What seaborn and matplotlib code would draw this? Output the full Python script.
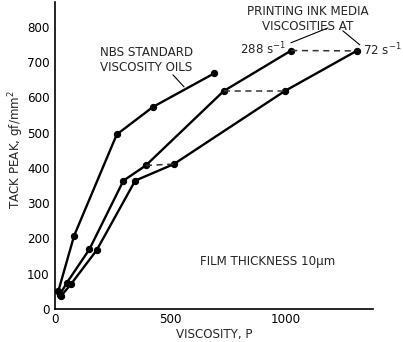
import matplotlib
matplotlib.use("Agg")
import matplotlib.pyplot as plt
from matplotlib.ticker import FixedLocator
import seaborn as sns
import pandas as pd

# data (viscosity in P, tack peak in gf/mm^2)
nbs_x = [15, 83, 268, 425, 690]
nbs_y = [52, 208, 495, 573, 668]
ink288_x = [20, 51, 149, 297, 394, 732, 1025]
ink288_y = [40, 74, 169, 364, 407, 618, 733]
ink72_x = [25, 70, 181, 348, 516, 997, 1309]
ink72_y = [36, 71, 167, 364, 411, 618, 732]
# dashed connectors between the two ink series (same sample)
link_pairs = [(4, 4), (5, 5), (6, 6)]

x_major = [0, 500, 1000]
x_minor = [100, 200, 300, 400, 600, 700, 800, 900, 1100, 1200]
y_ticks = [0, 100, 200, 300, 400, 500, 600, 700, 800]

sns.set_style("white")
plt.rcParams["font.family"] = ["DejaVu Sans"]
FS = 8.6

fig = plt.figure(figsize=(4.03, 3.42), dpi=100)
ax = fig.add_axes([0.1365, 0.0965, 0.789, 0.897])

for xs, ys in [(nbs_x, nbs_y), (ink288_x, ink288_y), (ink72_x, ink72_y)]:
    df = pd.DataFrame({"x": xs, "y": ys})
    sns.lineplot(data=df, x="x", y="y", sort=False, estimator=None, color="black",
                 lw=1.7, marker="o", markersize=4.5, markeredgecolor="black", ax=ax)

for i, j in link_pairs:
    sns.lineplot(x=[ink288_x[i], ink72_x[j]], y=[ink288_y[i], ink72_y[j]], sort=False,
                 estimator=None, color="#333333", lw=1.1, linestyle=(0, (4, 3)), ax=ax)

ax.set_xlim(0, 1380)
ax.set_ylim(0, 870)
ax.xaxis.set_major_locator(FixedLocator(x_major))
ax.xaxis.set_minor_locator(FixedLocator(x_minor))
ax.yaxis.set_major_locator(FixedLocator(y_ticks))
ax.tick_params(axis="x", which="major", direction="in", length=7, width=1, pad=3, labelsize=FS)
ax.tick_params(axis="x", which="minor", direction="in", length=4.5, width=1)
ax.tick_params(axis="y", which="major", direction="in", length=4.5, width=1, pad=4, labelsize=FS)
ax.tick_params(colors="black")
sns.despine(ax=ax)
for s in ["left", "bottom"]:
    ax.spines[s].set_color("black")
    ax.spines[s].set_linewidth(1.2)

ax.set_xlabel("VISCOSITY, P", fontsize=FS, labelpad=1)
ax.set_ylabel("TACK PEAK, gf/mm$^2$", fontsize=FS)
ax.yaxis.set_label_coords(-0.09, 0.52)

ax.text(195, 706, "NBS STANDARD\nVISCOSITY OILS", fontsize=FS, ha="left", va="center",
        linespacing=1.15)
ax.plot([512, 560], [664, 630], color="black", lw=0.8)

ax.text(1098, 823, "PRINTING INK MEDIA\nVISCOSITIES AT", fontsize=FS, ha="center",
        va="center", linespacing=1.15)
ax.plot([1184, 1024], [797, 755], color="black", lw=0.8, clip_on=False)
ax.plot([1249, 1323], [789, 749], color="black", lw=0.8, clip_on=False)
ax.text(1002, 737, "288 s$^{-1}$", fontsize=FS, ha="right", va="center")
ax.text(1335, 734, "72 s$^{-1}$", fontsize=FS, ha="left", va="center", clip_on=False)

ax.text(629, 136, "FILM THICKNESS 10\u03bcm", fontsize=FS, ha="left", va="center")

fig.savefig("out.png", dpi=100)
